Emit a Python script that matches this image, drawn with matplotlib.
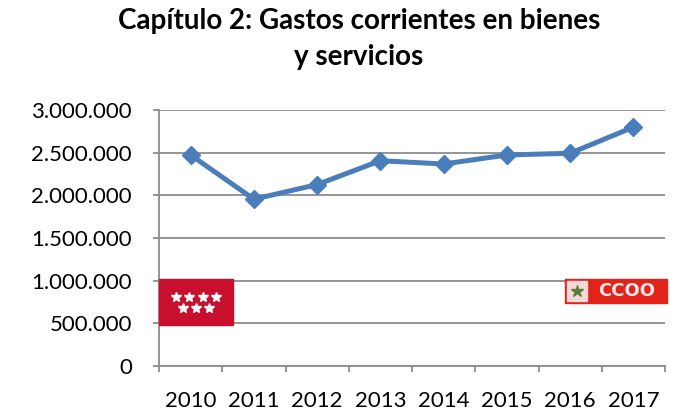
import matplotlib.pyplot as plt
from matplotlib.patches import Rectangle
from matplotlib.lines import Line2D

plt.rcParams['font.family'] = ['Lato', 'DejaVu Sans']

anios = ['2010', '2011', '2012', '2013', '2014', '2015', '2016', '2017']
gastos = [2473000, 1955000, 2126000, 2406000, 2367000, 2473000, 2493000, 2799000]
y_ticks = [0, 500000, 1000000, 1500000, 2000000, 2500000, 3000000]


def fmt_es(v):
    return f"{v:,.0f}".replace(",", ".")


W, H = 675, 412
fig = plt.figure(figsize=(W / 100, H / 100), dpi=100)
ax = fig.add_axes([159 / W, 1 - 366 / H, (665 - 159) / W, (366 - 110) / H])

gris = '#8c8c8c'
azul = '#4a7ebb'

x = list(range(len(anios)))
ax.plot(x, gastos, color=azul, lw=3.6, marker='D', markersize=9.5, zorder=3)

ax.set_xlim(-0.5, len(anios) - 0.5)
ax.set_ylim(0, 3000000)
ax.set_yticks(y_ticks)
ax.set_yticklabels([fmt_es(v) for v in y_ticks])
ax.set_xticks([i - 0.5 for i in range(len(anios) + 1)])
ax.set_xticklabels([])
ax.set_xticks(x, minor=True)
ax.set_xticklabels(anios, minor=True)
ax.tick_params(axis='x', which='minor', length=0, pad=18, labelsize=16)
ax.tick_params(axis='x', which='major', length=4.5, width=1.3, color=gris, direction='out')
ax.tick_params(axis='y', length=4.5, width=1.3, color=gris, pad=15, labelsize=16)

ax.grid(axis='y', color=gris, lw=1.3)
for s in ['top', 'right']:
    ax.spines[s].set_visible(False)
for s in ['left', 'bottom']:
    ax.spines[s].set_color(gris)
    ax.spines[s].set_linewidth(1.3)

fig.text(359 / W, 1 - 39 / H, 'Capítulo 2: Gastos corrientes en bienes\ny servicios',
         ha='center', va='center', fontsize=20, fontweight='bold', linespacing=1.45)


def fx(px):
    return px / W


def fy(py):
    return 1 - py / H


# logo Comunidad de Madrid
fig.add_artist(Rectangle((fx(159), fy(325)), (233 - 159) / W, (325 - 279) / H,
                         transform=fig.transFigure, color='#c8102e', zorder=5))
for sx in [176, 189, 203, 216]:
    fig.add_artist(Line2D([fx(sx)], [fy(297)], marker='*', color='white', markersize=7.5,
                          transform=fig.transFigure, zorder=6))
for sx in [183, 196, 209]:
    fig.add_artist(Line2D([fx(sx)], [fy(308)], marker='*', color='white', markersize=7.5,
                          transform=fig.transFigure, zorder=6))

# logo CCOO
fig.add_artist(Rectangle((fx(565), fy(303)), (667 - 565) / W, (303 - 279) / H,
                         transform=fig.transFigure, color='#e2231a', zorder=5))
fig.add_artist(Rectangle((fx(567), fy(301)), (587 - 567) / W, (301 - 281) / H,
                         transform=fig.transFigure, color='#f3d9d9', zorder=6))
fig.add_artist(Line2D([fx(577)], [fy(291)], marker='*', color='#5a7a3a', markersize=9,
                      transform=fig.transFigure, zorder=7))
fig.text(fx(627), fy(291), 'CCOO', ha='center', va='center', color='#fde8e8',
         fontsize=13, fontweight='black', family=['DejaVu Sans'], zorder=7)

fig.savefig('out.png', dpi=100)
